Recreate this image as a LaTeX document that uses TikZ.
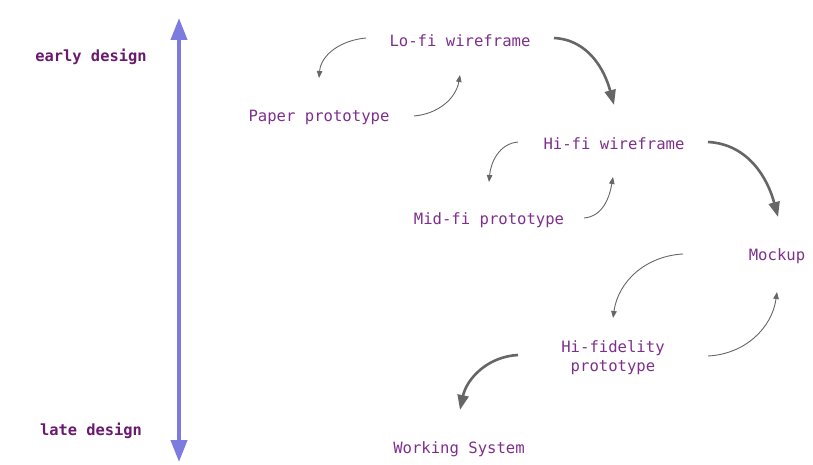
\documentclass[tikz,border=0pt]{standalone}
\usepackage{fontspec}
\setmonofont{DejaVu Sans Mono}
\usetikzlibrary{arrows.meta}
\definecolor{txt}{HTML}{7E2F8E}
\definecolor{txtb}{HTML}{6A1A6E}
\definecolor{axis}{HTML}{7B7BE0}
\definecolor{gr}{HTML}{666666}
\begin{document}
\begin{tikzpicture}[x=1pt,y=1pt,
  lbl/.style={inner sep=0pt,font=\ttfamily\fontsize{15.6}{19}\selectfont,text=txt,align=center},
  side/.style={inner sep=0pt,font=\ttfamily\bfseries\fontsize{15.4}{19}\selectfont,text=txtb},
  thin/.style={draw=gr,line width=0.9pt,-{Triangle[length=7pt,width=5.5pt]}},
  thick/.style={draw=gr,line width=2.6pt,-{Triangle[length=15pt,width=11pt]}},
  axisarrow/.style={draw=axis,line width=4pt,{Triangle[length=22pt,width=16pt]}-{Triangle[length=22pt,width=16pt]}}]
\useasboundingbox (0,0) rectangle (813,464);
% side axis
\node[side] (early) at (91,407.5) {early design};
\node[side] (late) at (91,33.5) {late design};
\coordinate (axtop) at (179,446);
\coordinate (axbot) at (179,2);
\draw[axisarrow] (axbot) -- (axtop);
% nodes
\node[lbl] (lofi) at (460,423.5) {Lo-fi wireframe};
\node[lbl] (paper) at (319,346.5) {Paper prototype};
\node[lbl] (hifi) at (614,320.5) {Hi-fi wireframe};
\node[lbl] (midfi) at (489,243.5) {Mid-fi prototype};
\node[lbl] (mock) at (777,207.5) {Mockup};
\node[lbl] (hifid) at (613,106.5) {Hi-fidelity\\prototype};
\node[lbl] (work) at (459,14.5) {Working System};
% connector end points
\coordinate (a1s) at (366,426); \coordinate (a1e) at (319,386);
\coordinate (a2s) at (414,348); \coordinate (a2e) at (460,389);
\coordinate (a3s) at (554,426); \coordinate (a3e) at (614,359);
\coordinate (a4s) at (518,322); \coordinate (a4e) at (489,282);
\coordinate (a5s) at (584,246); \coordinate (a5e) at (613,287);
\coordinate (a6s) at (708,322); \coordinate (a6e) at (778,247);
\coordinate (a7s) at (683,210); \coordinate (a7e) at (613,146);
\coordinate (a8s) at (708,108); \coordinate (a8e) at (777,172);
\coordinate (a9s) at (518,109); \coordinate (a9e) at (460,54);
% connectors
\draw[thin] (a1s) to[out=185,in=85] (a1e);
\draw[thin] (a2s) to[out=5,in=-100] (a2e);
\draw[thick] (a3s) to[out=-3,in=105] (a3e);
\draw[thin] (a4s) to[out=185,in=85] (a4e);
\draw[thin] (a5s) to[out=5,in=-100] (a5e);
\draw[thick] (a6s) to[out=-3,in=105] (a6e);
\draw[thin] (a7s) to[out=183,in=82] (a7e);
\draw[thin] (a8s) to[out=3,in=-98] (a8e);
\draw[thick] (a9s) to[out=183,in=78] (a9e);
\end{tikzpicture}
\end{document}
